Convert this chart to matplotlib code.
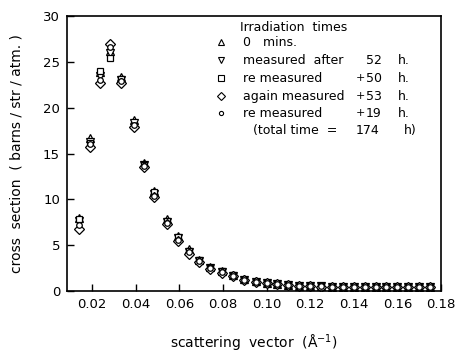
"""
cross section vs scattering vector, five irradiation runs
"""
import matplotlib
matplotlib.use("Agg")
import matplotlib.pyplot as plt
import numpy as np

q = [0.0142, 0.0190, 0.0236, 0.0281, 0.0333, 0.0391, 0.0440, 0.0486, 0.0545,
     0.0594, 0.0646, 0.0690, 0.0742, 0.0794, 0.0846, 0.0898, 0.0950, 0.1001,
     0.105, 0.110, 0.115, 0.120, 0.125, 0.130, 0.135, 0.140, 0.145, 0.150,
     0.155, 0.160, 0.165, 0.170, 0.175]

run_0 = [8.0, 16.7, 23.9, 26.2, 23.4, 18.7, 14.0, 10.9, 7.9, 6.0, 4.6, 3.4, 2.6,
         2.2, 1.7, 1.3, 1.05, 0.90, 0.75, 0.65, 0.58, 0.53, 0.50, 0.48, 0.47,
         0.46, 0.46, 0.45, 0.44, 0.44, 0.43, 0.43, 0.42]
run_52 = [7.6, 16.3, 23.5, 26.0, 23.0, 18.3, 13.8, 10.6, 7.5, 5.8, 4.3, 3.3, 2.5,
          2.1, 1.65, 1.25, 1.0, 0.88, 0.73, 0.63, 0.56, 0.51, 0.49, 0.47, 0.46,
          0.45, 0.45, 0.44, 0.43, 0.43, 0.42, 0.42, 0.41]
run_102 = [7.8, 16.2, 24.0, 25.4, 23.1, 18.0, 13.7, 10.8, 7.6, 5.9, 4.4, 3.4, 2.5,
           2.2, 1.7, 1.25, 1.0, 0.90, 0.75, 0.64, 0.57, 0.52, 0.50, 0.48, 0.47,
           0.46, 0.45, 0.45, 0.44, 0.43, 0.43, 0.42, 0.42]
run_155 = [6.8, 15.7, 22.7, 27.0, 22.7, 17.9, 13.5, 10.2, 7.3, 5.4, 4.0, 3.2, 2.4,
           2.0, 1.6, 1.2, 0.95, 0.85, 0.72, 0.62, 0.55, 0.50, 0.48, 0.46, 0.45,
           0.44, 0.44, 0.43, 0.43, 0.42, 0.42, 0.41, 0.41]
run_174 = [7.2, 16.0, 23.0, 26.6, 22.9, 18.1, 13.6, 10.4, 7.4, 5.6, 4.2, 3.3, 2.5,
           2.1, 1.65, 1.25, 1.0, 0.87, 0.74, 0.63, 0.56, 0.51, 0.49, 0.47, 0.46,
           0.45, 0.45, 0.44, 0.43, 0.43, 0.42, 0.42, 0.41]

runs = [run_0, run_52, run_102, run_155, run_174]
markers = ["^", "v", "s", "D", "o"]
sizes = [5.5, 5.5, 5, 5, 4]

legend_left = ["0   mins.", "measured  after", "re measured", "again measured",
               "re measured"]
legend_plus = ["", "", "+", "+", "+"]
legend_num = ["", "52", "50", "53", "19"]
legend_unit = ["", "h.", "h.", "h.", "h."]

plt.rcParams["font.family"] = "DejaVu Sans"
fig = plt.figure(figsize=(4.55, 3.57), dpi=100)
left_px, right_px = 67, 441
ax = fig.add_axes([left_px / 455, 0.185, (right_px - left_px) / 455, 0.77])

for y, m, s in zip(runs, markers, sizes):
    ax.plot(q, y, linestyle="none", marker=m, markersize=s, mfc="white",
            mec="black", mew=0.9)

ax.set_xlim(0.0085, 0.18)
ax.set_ylim(0, 30)
ax.set_xticks(np.arange(0.02, 0.181, 0.02))
ax.set_xticklabels(["%.2f" % v for v in np.arange(0.02, 0.181, 0.02)])
ax.set_yticks(np.arange(0, 31, 5))
ax.tick_params(direction="in", length=5, width=1, labelsize=9.5, pad=5)
for sp in ax.spines.values():
    sp.set_linewidth(1.2)

ax.set_xlabel("scattering  vector  ($\\mathrm{\\AA}^{-1}$)", fontsize=10, labelpad=16)
ax.set_ylabel("cross  section  ( barns / str / atm. )", fontsize=10, labelpad=14)

# legend drawn by hand so the number columns line up
def fx(px):
    return (px - left_px) / float(right_px - left_px)

def fy(py):
    return (291 - py) / 275.0

ax.text(fx(240), fy(27), "Irradiation  times", transform=ax.transAxes,
        fontsize=9, va="center")
rows = [42, 60, 78, 96, 113]
for i, py in enumerate(rows):
    ax.plot([fx(221)], [fy(py)], transform=ax.transAxes, linestyle="none",
            marker=markers[i], markersize=sizes[i] - 1, mfc="white",
            mec="black", mew=0.8, clip_on=False)
    ax.text(fx(243), fy(py), legend_left[i], transform=ax.transAxes,
            fontsize=9, va="center")
    if legend_plus[i]:
        ax.text(fx(356), fy(py), legend_plus[i], transform=ax.transAxes,
                fontsize=8, va="center")
    if legend_num[i]:
        ax.text(fx(366), fy(py), legend_num[i], transform=ax.transAxes,
                fontsize=9, va="center")
        ax.text(fx(398), fy(py), legend_unit[i], transform=ax.transAxes,
                fontsize=9, va="center")
ax.text(fx(253), fy(130), "(total time  =", transform=ax.transAxes,
        fontsize=9, va="center")
ax.text(fx(356), fy(130), "174", transform=ax.transAxes, fontsize=9, va="center")
ax.text(fx(404), fy(130), "h)", transform=ax.transAxes, fontsize=9, va="center")

fig.savefig("out.png", dpi=100)
